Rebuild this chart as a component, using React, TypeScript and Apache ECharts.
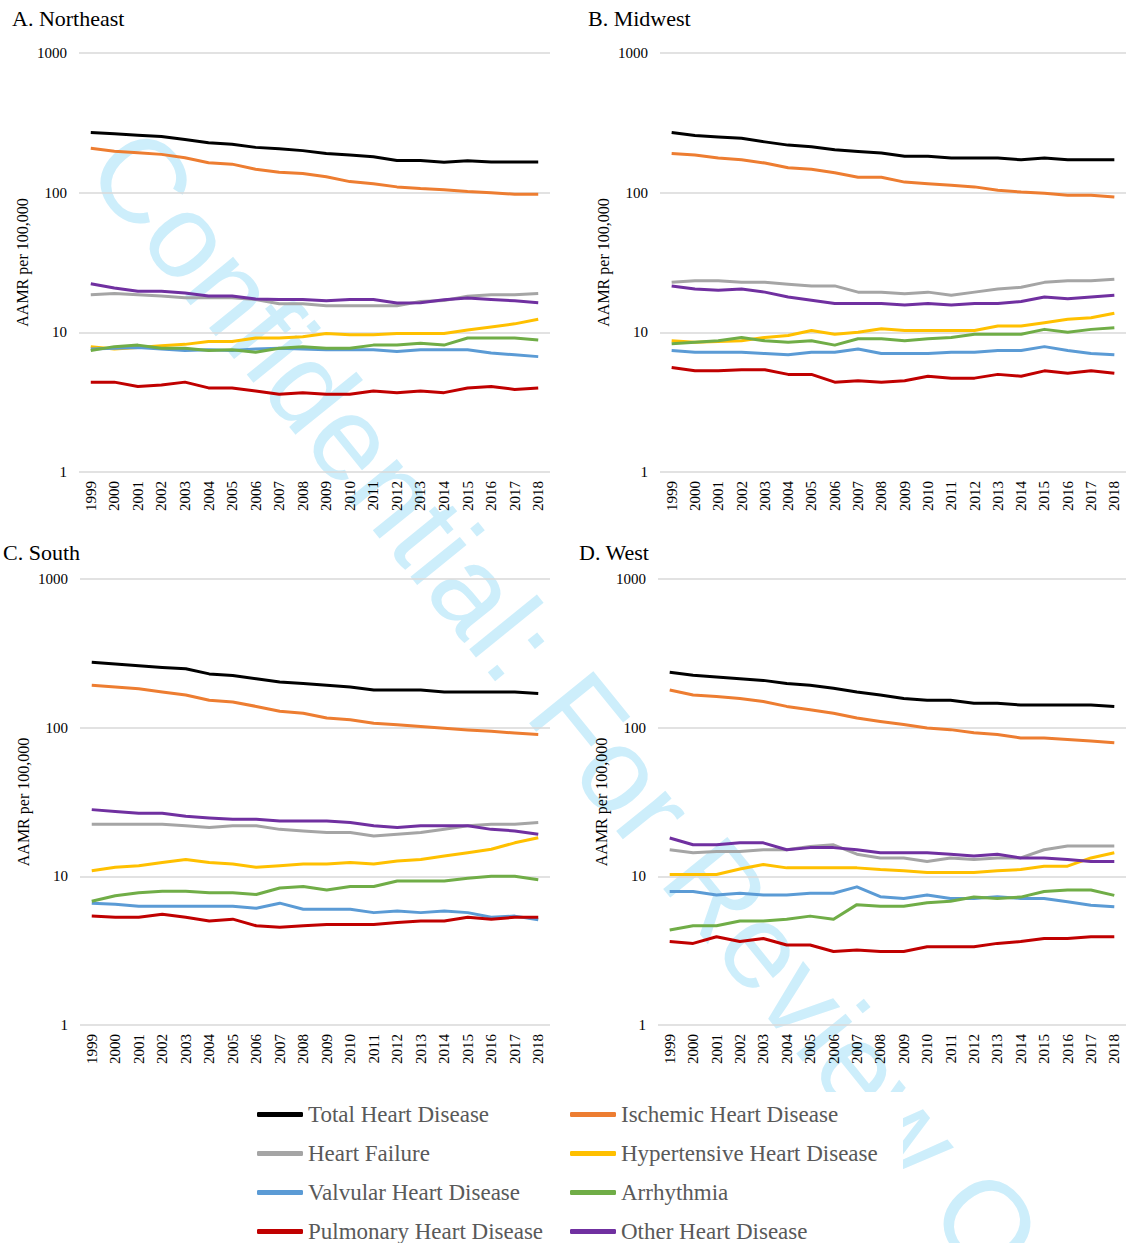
import React, { useEffect, useRef } from "react";
import * as echarts from "echarts";

const years = ["1999","2000","2001","2002","2003","2004","2005","2006","2007","2008","2009","2010","2011","2012","2013","2014","2015","2016","2017","2018"];
const yTicks = [1, 10, 100, 1000];

const causes = [
  "Total Heart Disease",
  "Ischemic Heart Disease",
  "Heart Failure",
  "Hypertensive Heart Disease",
  "Valvular Heart Disease",
  "Arrhythmia",
  "Pulmonary Heart Disease",
  "Other Heart Disease",
];
const causeColors = ["#000000", "#ED7D31", "#A5A5A5", "#FFC000", "#5B9BD5", "#70AD47", "#C00000", "#7030A0"];

const regionTitles = ["A. Northeast", "B. Midwest", "C. South", "D. West"];

// A. Northeast
const neTotal = [270,264,258,252,240,228,222,211,206,200,191,186,181,170,170,165,169,166,166,166];
const neIschemic = [208,198,193,188,178,164,160,147,140,137,130,120,116,110,107,105,102,100,97.5,97.5];
const neHeartFailure = [18.6,19.0,18.6,18.2,17.7,17.7,17.7,17.2,16.0,16.0,15.5,15.5,15.5,15.5,16.6,16.9,18.1,18.6,18.6,19.0];
const neHypertensive = [7.9,7.6,7.8,8.0,8.2,8.6,8.6,9.1,9.1,9.3,9.8,9.6,9.6,9.8,9.8,9.8,10.4,10.9,11.5,12.4];
const neValvular = [7.6,7.7,7.8,7.6,7.4,7.5,7.4,7.6,7.7,7.6,7.5,7.5,7.5,7.3,7.5,7.5,7.5,7.1,6.9,6.7];
const neArrhythmia = [7.4,7.9,8.1,7.7,7.7,7.4,7.5,7.2,7.7,7.9,7.7,7.7,8.1,8.1,8.35,8.1,9.1,9.1,9.1,8.8];
const nePulmonary = [4.4,4.4,4.1,4.2,4.4,4.0,4.0,3.8,3.6,3.7,3.6,3.6,3.8,3.7,3.8,3.7,4.0,4.1,3.9,4.0];
const neOther = [22.3,20.8,19.7,19.7,19.1,18.2,18.2,17.3,17.2,17.2,16.8,17.2,17.2,16.2,16.3,17.1,17.6,17.2,16.8,16.3];

// B. Midwest
const mwTotal = [270,257,250,245,231,219,213,203,197,192,182,182,177,177,177,172,177,172,172,172];
const mwIschemic = [191,186,177,172,163,151,147,139,129,129,119,116,113,110,104,101,99,96,96,93];
const mwHeartFailure = [22.8,23.4,23.4,22.8,22.8,22.1,21.5,21.5,19.4,19.4,18.9,19.4,18.4,19.4,20.4,21.0,22.8,23.4,23.4,24.0];
const mwHypertensive = [8.7,8.5,8.6,8.7,9.2,9.5,10.3,9.7,10.0,10.6,10.3,10.3,10.3,10.3,11.1,11.1,11.7,12.4,12.7,13.7];
const mwValvular = [7.4,7.2,7.2,7.2,7.05,6.9,7.2,7.2,7.6,7.05,7.05,7.05,7.2,7.2,7.4,7.4,7.9,7.4,7.05,6.9];
const mwArrhythmia = [8.3,8.5,8.7,9.2,8.7,8.5,8.7,8.1,9.0,9.0,8.7,9.0,9.2,9.7,9.7,9.7,10.5,10.0,10.5,10.8];
const mwPulmonary = [5.6,5.3,5.3,5.4,5.4,5.0,5.0,4.4,4.5,4.4,4.5,4.85,4.7,4.7,5.0,4.85,5.3,5.1,5.3,5.1];
const mwOther = [21.5,20.4,20.0,20.4,19.4,17.9,17.0,16.1,16.1,16.1,15.7,16.1,15.7,16.1,16.1,16.6,17.9,17.4,17.9,18.4];

// C. South
const soTotal = [275,268,261,254,249,230,224,213,203,198,193,188,179,179,179,174,174,174,174,170];
const soIschemic = [193,188,183,174,166,153,149,139,129,125,116,113,107,104.5,102,99,96.6,94.5,92,90];
const soHeartFailure = [22.4,22.4,22.4,22.4,21.9,21.3,21.9,21.9,20.7,20.2,19.7,19.7,18.7,19.2,19.7,20.7,21.9,22.4,22.4,23.0];
const soHypertensive = [10.9,11.5,11.8,12.4,13.0,12.4,12.1,11.5,11.8,12.1,12.1,12.4,12.1,12.7,13.0,13.7,14.4,15.2,16.8,18.2];
const soValvular = [6.6,6.5,6.3,6.3,6.3,6.3,6.3,6.1,6.6,6.0,6.0,6.0,5.7,5.85,5.7,5.85,5.7,5.3,5.4,5.1];
const soArrhythmia = [6.8,7.4,7.75,7.95,7.95,7.75,7.75,7.55,8.35,8.55,8.1,8.55,8.55,9.3,9.3,9.3,9.7,10.0,10.0,9.5];
const soPulmonary = [5.4,5.3,5.3,5.55,5.3,5.0,5.15,4.65,4.55,4.65,4.75,4.75,4.75,4.9,5.0,5.0,5.3,5.15,5.3,5.3];
const soOther = [28.1,27.3,26.6,26.6,25.4,24.7,24.2,24.2,23.6,23.6,23.6,23.0,21.9,21.3,21.9,21.9,21.9,20.7,20.2,19.2];

// D. West
const weTotal = [236,225,219,213,208,198,193,184,174,166,157,153,153,146,146,142,142,142,142,139];
const weIschemic = [179,166,162,157,150,139,132,125,116,110,105,99.6,97,92.5,90,85.3,85.3,83.2,81.4,79.3];
const weHeartFailure = [15.1,14.4,14.7,14.7,15.1,15.1,15.9,16.3,14.1,13.3,13.3,12.6,13.3,13.0,13.3,13.3,15.1,16.0,16.0,16.0];
const weHypertensive = [10.3,10.3,10.3,11.2,12.0,11.4,11.4,11.4,11.4,11.1,10.9,10.6,10.6,10.6,10.9,11.1,11.7,11.7,13.3,14.4];
const weValvular = [7.9,7.9,7.5,7.7,7.5,7.5,7.7,7.7,8.5,7.3,7.1,7.5,7.1,7.1,7.3,7.1,7.1,6.75,6.4,6.25];
const weArrhythmia = [4.35,4.65,4.65,5.0,5.0,5.15,5.4,5.15,6.45,6.3,6.3,6.65,6.8,7.25,7.1,7.25,7.9,8.1,8.1,7.45];
const wePulmonary = [3.64,3.54,3.92,3.64,3.82,3.45,3.45,3.12,3.2,3.12,3.12,3.36,3.36,3.36,3.54,3.64,3.82,3.82,3.92,3.92];
const weOther = [18.1,16.3,16.3,16.8,16.8,15.1,15.6,15.6,15.1,14.4,14.4,14.4,14.1,13.7,14.1,13.3,13.3,13.0,12.6,12.6];

const regionSeries = [
  [neTotal, neIschemic, neHeartFailure, neHypertensive, neValvular, neArrhythmia, nePulmonary, neOther],
  [mwTotal, mwIschemic, mwHeartFailure, mwHypertensive, mwValvular, mwArrhythmia, mwPulmonary, mwOther],
  [soTotal, soIschemic, soHeartFailure, soHypertensive, soValvular, soArrhythmia, soPulmonary, soOther],
  [weTotal, weIschemic, weHeartFailure, weHypertensive, weValvular, weArrhythmia, wePulmonary, weOther],
];

const watermarkText = "Confidential: For Review Only";

const SERIF = "'Liberation Serif', 'Times New Roman', serif";

// layout of panels (pixels)
const panels = [
  { left: 79, top: 53, width: 471, height: 419, titleX: 12, titleY: 7 },
  { left: 660, top: 53, width: 471, height: 419, titleX: 588, titleY: 7 },
  { left: 80, top: 579, width: 470, height: 446, titleX: 3, titleY: 541 },
  { left: 658, top: 579, width: 471, height: 446, titleX: 579, titleY: 541 },
];

export default function App() {
  const ref = useRef<HTMLDivElement>(null);

  useEffect(() => {
    if (!ref.current) return;
    const chart = echarts.init(ref.current, undefined, { renderer: "svg" });

    const series: any[] = [];
    regionSeries.forEach((list, gi) => {
      list.forEach((values, ci) => {
        series.push({
          type: "line",
          name: causes[ci],
          xAxisIndex: gi,
          yAxisIndex: gi,
          data: values,
          showSymbol: false,
          symbol: "none",
          color: causeColors[ci],
          lineStyle: { width: 3, color: causeColors[ci], join: "round" },
          itemStyle: { color: causeColors[ci] },
          z: 2 + ci * 0.01,
        });
      });
    });

    const legendCommon = {
      orient: "vertical",
      icon: "roundRect",
      itemWidth: 46,
      itemHeight: 5,
      itemGap: 16,
      padding: 0,
      selectedMode: false,
      textStyle: { fontFamily: SERIF, fontSize: 23, color: "#595959", lineHeight: 23 },
    };

    const option: any = {
      animation: false,
      backgroundColor: "#ffffff",
      title: panels.map((p, i) => ({
        text: regionTitles[i],
        left: p.titleX,
        top: p.titleY,
        padding: 0,
        textStyle: { fontFamily: SERIF, fontSize: 22, fontWeight: "normal", color: "#000000" },
      })),
      grid: panels.map((p) => ({ left: p.left, top: p.top, width: p.width, height: p.height, containLabel: false })),
      xAxis: panels.map((_, i) => ({
        type: "category",
        gridIndex: i,
        data: years,
        boundaryGap: true,
        axisLine: { show: false },
        axisTick: { show: false },
        axisLabel: { rotate: 90, margin: 9, fontFamily: SERIF, fontSize: 15, color: "#000000", interval: 0 },
        splitLine: { show: false },
      })),
      yAxis: panels.map((_, i) => ({
        type: "log",
        logBase: 10,
        gridIndex: i,
        min: yTicks[0],
        max: yTicks[yTicks.length - 1],
        splitNumber: 3,
        name: "AAMR per 100,000",
        nameLocation: "middle",
        nameRotate: 90,
        nameGap: 49,
        nameTextStyle: { fontFamily: SERIF, fontSize: 16, color: "#000000" },
        axisLine: { show: false },
        axisTick: { show: false },
        axisLabel: {
          margin: 12,
          fontFamily: SERIF,
          fontSize: 15,
          color: "#000000",
          formatter: (v: number) => String(Math.round(v)),
        },
        splitLine: { show: true, lineStyle: { color: "#D9D9D9", width: 1.5 } },
      })),
      legend: [
        { ...legendCommon, left: 257, top: 1103, data: [causes[0], causes[2], causes[4], causes[6]] },
        { ...legendCommon, left: 570, top: 1103, data: [causes[1], causes[3], causes[5], causes[7]] },
      ],
      graphic: [
        {
          type: "text",
          x: 115,
          y: 145,
          rotation: (-51 * Math.PI) / 180,
          z: -10,
          silent: true,
          style: {
            text: watermarkText,
            fontFamily: "'Liberation Sans', Arial, sans-serif",
            fontSize: 120,
            fill: "#CDEEFB",
            align: "left",
            verticalAlign: "middle",
          },
        },
        {
          type: "rect",
          z: -5,
          silent: true,
          shape: { x: 240, y: 1092, width: 663, height: 151 },
          style: { fill: "#ffffff" },
        },
      ],
      series,
    };

    chart.setOption(option);
    return () => chart.dispose();
  }, []);

  return (
    <div
      ref={ref}
      style={{ position: "absolute", left: 0, top: 0, width: 1126, height: 1243, background: "#ffffff" }}
    />
  );
}
